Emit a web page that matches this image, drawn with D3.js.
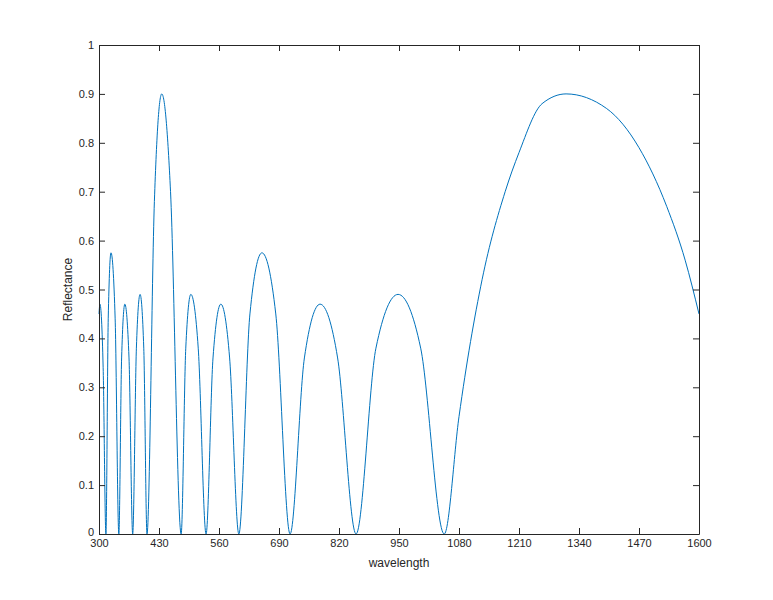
<!DOCTYPE html>
<html><head><meta charset="utf-8">
<script src="https://cdn.jsdelivr.net/npm/d3@7"></script>
<style>body{margin:0;background:#fff}text{font-family:Arial,"Liberation Sans",sans-serif}</style>
</head><body><svg id="c" width="773" height="600"></svg>
<script>
const wavelength = [300,302,309,315,320,326,335,343,349,356,365,373,381,389,397,404,420,436,455,478,488,499,515,532,547,564,583,603,627,653,683,714,745,779,817,857,900,948,997,1048,1080,1130,1180,1210,1260,1312,1400,1470,1530,1570,1600];
const reflectance = [0.45,0.47,0.34,0,0.44,0.575,0.44,0,0.36,0.47,0.36,0,0.38,0.49,0.38,0,0.68,0.9,0.70,0,0.38,0.49,0.38,0,0.36,0.47,0.36,0,0.45,0.575,0.45,0,0.36,0.47,0.36,0,0.38,0.49,0.38,0,0.24,0.52,0.70,0.78,0.88,0.9,0.87,0.79,0.67,0.56,0.45];
const xTicks = [300,430,560,690,820,950,1080,1210,1340,1470,1600];
const yTicks = [0,0.1,0.2,0.3,0.4,0.5,0.6,0.7,0.8,0.9,1];

const svg = d3.select("#c");
const L=99,R=699,T=45,B=534;
const x=d3.scaleLinear().domain([300,1600]).range([L,R]);
const y=d3.scaleLinear().domain([0,1]).range([B,T]);
const col="#262626";
const line=d3.line().x((d,i)=>x(wavelength[i])).y(d=>y(d)).curve(d3.curveMonotoneX);
svg.append("path").attr("d",line(reflectance)).attr("fill","none").attr("stroke","#0072BD").attr("stroke-width",1);
function st(g){g.selectAll("path,line").attr("stroke",col);g.selectAll("text").attr("fill",col).style("font-size","11px");}
svg.append("g").attr("transform",`translate(0,${B})`).call(d3.axisBottom(x).tickValues(xTicks).tickSizeInner(-6).tickSizeOuter(0).tickPadding(5).tickFormat(d3.format("d"))).call(st);
svg.append("g").attr("transform",`translate(0,${T})`).call(d3.axisTop(x).tickValues(xTicks).tickSizeInner(-6).tickSizeOuter(0).tickFormat("")).call(st);
const ya=svg.append("g").attr("transform",`translate(${L},0)`).call(d3.axisLeft(y).tickValues(yTicks).tickSizeInner(-6).tickSizeOuter(0).tickPadding(5).tickFormat(d3.format("~g"))).call(st);
ya.selectAll("text").filter(d=>d===0).attr("dy","0.1em");
svg.append("g").attr("transform",`translate(${R},0)`).call(d3.axisRight(y).tickValues(yTicks).tickSizeInner(-6).tickSizeOuter(0).tickFormat("")).call(st);
svg.selectAll(".domain").attr("stroke",col);
svg.append("text").attr("x",(L+R)/2).attr("y",567).attr("text-anchor","middle").attr("fill",col).style("font-size","12px").text("wavelength");
svg.append("text").attr("transform",`translate(72,${(T+B)/2}) rotate(-90)`).attr("text-anchor","middle").attr("fill",col).style("font-size","12px").text("Reflectance");
</script></body></html>
